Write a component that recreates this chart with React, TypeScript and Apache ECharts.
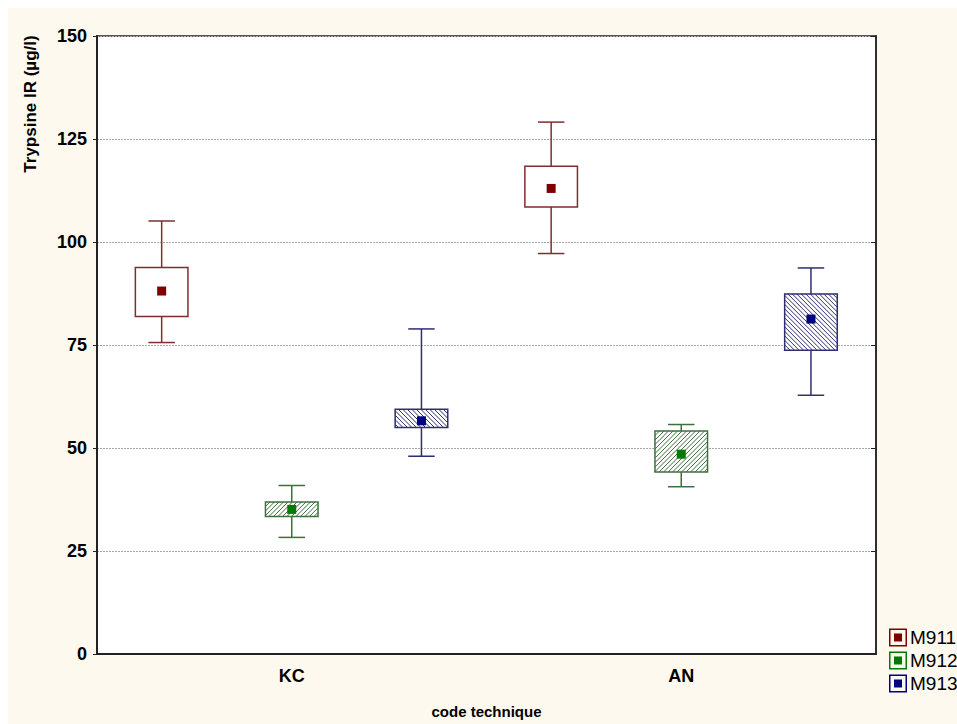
import React, { useEffect, useRef } from "react";
import * as echarts from "echarts";

const categories = ["KC", "AN"];
const seriesNames = ["M911", "M912", "M913"];
// per series, per category
const whiskerLow = [[75.6, 97.2], [28.3, 40.6], [48.0, 62.8]];
const boxLow = [[81.9, 108.5], [33.4, 44.2], [55.0, 73.7]];
const meanValues = [[88.1, 113.0], [35.1, 48.5], [56.6, 81.3]];
const boxHigh = [[93.8, 118.4], [36.9, 54.1], [59.4, 87.4]];
const whiskerHigh = [[105.1, 129.1], [40.9, 55.7], [78.9, 93.7]];
const yTicks = [0, 25, 50, 75, 100, 125, 150];

const lineColors = ["#7e2e2e", "#3f6f3f", "#2e2e70"];
const markerColors = ["#800000", "#007a00", "#00007f"];
const hatchDir = [0, 1, -1]; // 0 none, 1 "/", -1 "\"
const offsets = [-0.334, 0, 0.333];
const FONT = "Arial, 'Liberation Sans', sans-serif";

function hatchLines(x0: number, y0: number, w: number, h: number, dir: number, s: number, color: string) {
  const x1 = x0 + w, y1 = y0 + h;
  const out: any[] = [];
  if (dir === 1) {
    for (let c = x0 + y0 + s; c < x1 + y1; c += s) {
      const xa = Math.max(x0, c - y1), xb = Math.min(x1, c - y0);
      if (xb <= xa) continue;
      out.push({ type: "line", shape: { x1: xa, y1: c - xa, x2: xb, y2: c - xb }, style: { stroke: color, lineWidth: 1 } });
    }
  } else if (dir === -1) {
    for (let d = y0 - x1 + s; d < y1 - x0; d += s) {
      const xa = Math.max(x0, y0 - d), xb = Math.min(x1, y1 - d);
      if (xb <= xa) continue;
      out.push({ type: "line", shape: { x1: xa, y1: xa + d, x2: xb, y2: xb + d }, style: { stroke: color, lineWidth: 1 } });
    }
  }
  return out;
}

const iconPath = "path://M0,0H18V18H0Z M1.5,1.5V16.5H16.5V1.5Z M5,5H13V13H5Z";

export default function App() {
  const ref = useRef<HTMLDivElement>(null);
  useEffect(() => {
    if (!ref.current) return;
    const chart = echarts.init(ref.current, null, { renderer: "svg" });
    const series = seriesNames.map((name, si) => ({
      type: "custom",
      name,
      data: categories.map((_, ci) => [ci, whiskerLow[si][ci], boxLow[si][ci], meanValues[si][ci], boxHigh[si][ci], whiskerHigh[si][ci]]),
      encode: { x: 0, y: [1, 2, 3, 4, 5] },
      itemStyle: { color: markerColors[si], borderColor: lineColors[si] },
      renderItem: (params: any, api: any) => {
        const cat = api.value(0);
        const band = api.size([1, 0])[0];
        const cx = api.coord([cat, 0])[0] + offsets[si] * band;
        const yy = (v: number) => api.coord([cat, v])[1];
        const yWl = yy(api.value(1)), yBl = yy(api.value(2)), yM = yy(api.value(3)), yBh = yy(api.value(4)), yWh = yy(api.value(5));
        const bw = band * 0.135;
        const cw = band * 0.068;
        const lc = lineColors[si];
        const ls = { stroke: lc, lineWidth: 1.5 };
        const bx = cx - bw / 2;
        const children: any[] = [
          { type: "line", shape: { x1: cx, y1: yWh, x2: cx, y2: yBh }, style: ls },
          { type: "line", shape: { x1: cx, y1: yBl, x2: cx, y2: yWl }, style: ls },
          { type: "line", shape: { x1: cx - cw / 2, y1: yWh, x2: cx + cw / 2, y2: yWh }, style: ls },
          { type: "line", shape: { x1: cx - cw / 2, y1: yWl, x2: cx + cw / 2, y2: yWl }, style: ls },
          { type: "rect", shape: { x: bx, y: yBh, width: bw, height: yBl - yBh }, style: { fill: "#ffffff", stroke: "none" } },
          ...hatchLines(bx, yBh, bw, yBl - yBh, hatchDir[si], 4.5, lc),
          { type: "rect", shape: { x: bx, y: yBh, width: bw, height: yBl - yBh }, style: { fill: "none", stroke: lc, lineWidth: 1.5 } },
          { type: "rect", shape: { x: cx - 4.5, y: yM - 4.5, width: 9, height: 9 }, style: { fill: markerColors[si] } },
        ];
        return { type: "group", children };
      },
    }));
    chart.setOption({
      animation: false,
      backgroundColor: "#fdf9ee",
      textStyle: { fontFamily: FONT },
      grid: { left: 89, top: 28, right: 81, bottom: 66, show: true, backgroundColor: "#ffffff", borderColor: "#222", borderWidth: 1.5 },
      legend: {
        orient: "vertical",
        left: 876,
        top: 615,
        itemWidth: 18,
        itemHeight: 18,
        itemGap: 4,
        data: seriesNames.map((n, i) => ({ name: n, icon: iconPath, itemStyle: { color: markerColors[i] } })),
        textStyle: { fontSize: 19, color: "#000", fontFamily: FONT, padding: [0, 0, 0, -2] },
      },
      xAxis: {
        type: "category",
        data: categories,
        boundaryGap: true,
        axisLine: { lineStyle: { color: "#222", width: 2 } },
        axisTick: { alignWithLabel: true, inside: true, length: 5, lineStyle: { color: "#222" } },
        axisLabel: { fontSize: 18, fontWeight: "bold", color: "#000", margin: 13, fontFamily: FONT },
        name: "code technique",
        nameLocation: "middle",
        nameGap: 50,
        nameTextStyle: { fontSize: 15, fontWeight: "bold", color: "#000", fontFamily: FONT },
        splitLine: { show: false },
      },
      yAxis: [
        {
          type: "value",
          min: yTicks[0],
          max: yTicks[yTicks.length - 1],
          interval: yTicks[1] - yTicks[0],
          axisLine: { show: true, lineStyle: { color: "#222", width: 2 } },
          axisTick: { show: true, length: 4, lineStyle: { color: "#222" } },
          axisLabel: { fontSize: 18, fontWeight: "bold", color: "#000", margin: 10, fontFamily: FONT },
          splitLine: { show: true, lineStyle: { color: "#a8a8a8", type: [2, 1], width: 1 } },
        },
        {
          type: "value",
          position: "right",
          min: yTicks[0],
          max: yTicks[yTicks.length - 1],
          interval: yTicks[1] - yTicks[0],
          axisLine: { show: true, lineStyle: { color: "#222", width: 1.5 } },
          axisTick: { show: true, inside: true, length: 5, lineStyle: { color: "#222" } },
          axisLabel: { show: false },
          splitLine: { show: false },
        },
      ],
      graphic: [
        {
          type: "text",
          x: 22,
          y: 96,
          rotation: Math.PI / 2,
          style: { text: "Trypsine IR (µg/l)", fontSize: 17, fontWeight: "bold", fill: "#000", fontFamily: FONT, textAlign: "center", textVerticalAlign: "middle" },
        },
      ],
      series,
    });
    return () => chart.dispose();
  }, []);
  return <div ref={ref} style={{ position: "absolute", left: 8, top: 8, width: 949, height: 716 }} />;
}
